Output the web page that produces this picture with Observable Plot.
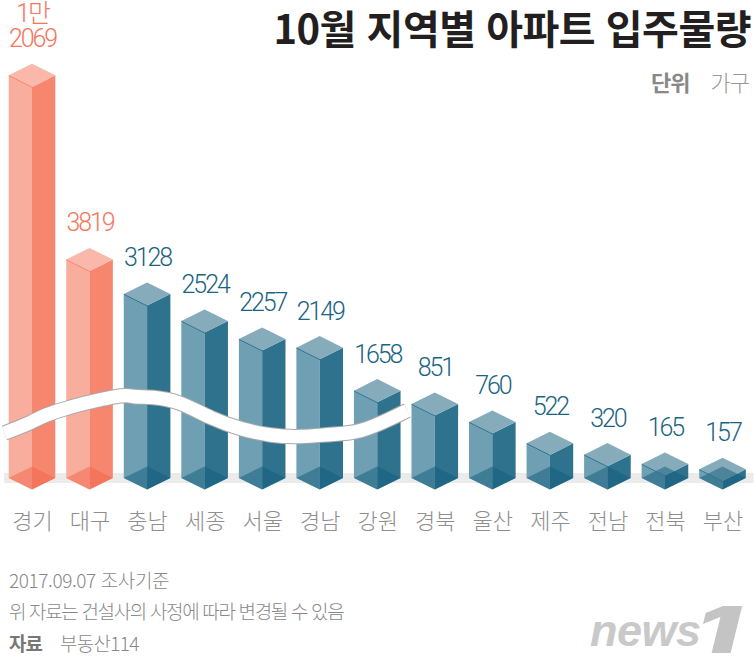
<!DOCTYPE html>
<html lang="ko">
<head>
<meta charset="utf-8">
<script src="https://cdn.jsdelivr.net/npm/d3@7"></script>
<script src="https://cdn.jsdelivr.net/npm/@observablehq/plot@0.6"></script>
<style>
  html, body { margin: 0; padding: 0; background: #fff; }
  #chart { position: relative; width: 756px; height: 657px; overflow: hidden;
           font-family: "Noto Sans CJK KR", sans-serif; }
  #chart svg { display: block; background: transparent; }
  .vals text { letter-spacing: -2.1px; font-weight: 300; }
  .abs { position: absolute; white-space: nowrap; line-height: 1.3; }
  #title { right: 5px; top: 1px; font-size: 40px; font-weight: 700; color: #231f20; letter-spacing: -0.5px; }
  #unit { right: 7px; top: 67px; font-size: 22px; color: #999; font-weight: 300; letter-spacing: -1px; }
  #unit b { font-weight: 700; color: #888; margin-right: 21px; }
  .note { left: 9px; font-size: 19px; color: #888; font-weight: 300; letter-spacing: -1.6px; }
  .note b { font-weight: 700; color: #777; margin-right: 18px; letter-spacing: -1px; }
  #logo { left: 590px; top: 606px; font: italic 700 45px/1.1 "Liberation Sans", sans-serif; color: #c9c9c9; letter-spacing: -0.5px; }
  #logo1 { left: 696px; top: 603px; font: italic 900 64px/0.85 "Inter", "Liberation Sans", sans-serif; color: #c4c4c4;
           transform: scaleX(1.5); transform-origin: left center; }
</style>
</head>
<body>
<div id="chart">
  <div class="abs" id="title">10월 지역별 아파트 입주물량</div>
  <div class="abs" id="unit"><b>단위</b>가구</div>
  <div class="abs note" style="top:568px;letter-spacing:-0.4px">2017.09.07 조사기준</div>
  <div class="abs note" style="top:599px;letter-spacing:-1.35px">위 자료는 건설사의 사정에 따라 변경될 수 있음</div>
  <div class="abs note" style="top:631px;letter-spacing:-0.7px"><b>자료</b>부동산114</div>
  <div class="abs" id="logo">news</div>
  <div class="abs" id="logo1">1</div>
</div>
<script>
const regions = ["경기","대구","충남","세종","서울","경남","강원","경북","울산","제주","전남","전북","부산"];
const households = [12069,3819,3128,2524,2257,2149,1658,851,760,522,320,165,157];
const drawnHeights = [402.7,218.5,184,157,139,130.3,87.3,74,56,34.7,23.3,14,8.7];
const waveX = [-0.487,-0.035,0.435,1.409,1.757,2.104,2.574,3.096,3.617,4.139,4.661,5.183,5.704,6.226,6.513];
const waveY = [45.5,56,67.5,81.5,82,81,75,61,50,43.5,42,44,48,60,68];

const halfWidth = 0.405, slant = 11.6;
const highlighted = 2;
const palette = {
  warm: {left:"#f9ad9d", right:"#f7866f", top:"#fab8aa", edge:"#f8836c", floor:"#f2634a", text:"#f4765c"},
  cool: {left:"#6f9fb2", right:"#2f728e", top:"#86acbc", edge:"#2f728e", floor:"#0f5b7a", text:"#1a6482"}
};
const bars = regions.map((r,i)=>({i, region:r, value:households[i], h:drawnHeights[i],
  c: i<highlighted ? palette.warm : palette.cool}));

const polys = (fn) => bars.flatMap(b => fn(b).map(p => ({key:b.i, x:b.i+p[0], y1:p[1], y2:p[2], b})));
const leftFace  = polys(b=>[[-halfWidth,0,b.h],[0,-slant,b.h-slant]]);
const rightFace = polys(b=>[[0,-slant,b.h-slant],[halfWidth,0,b.h]]);
const topFace   = polys(b=>[[-halfWidth,b.h,b.h],[0,b.h-slant,b.h+slant],[halfWidth,b.h,b.h]]);
const floorFace = polys(b=>[[-halfWidth,0,0],[0,-slant,slant],[halfWidth,0,0]]);
const topEdge   = polys(b=>[[-halfWidth,b.h,b.h],[0,b.h-slant,0]]);

const label = v => v>=10000 ? `${Math.floor(v/10000)}만\n${v%10000}` : `${v}`;
const wave = waveX.map((x,k)=>({x, y:waveY[k]}));
const area = (rows, color, extra={}) => Plot.area(rows,{x1:"x",y1:"y1",y2:"y2",z:"key",fill:d=>d.b.c[color],...extra});
const band = [{x1:-0.487,x2:12.54,y1:-5,y2:5}];

const chart = Plot.plot({
  width:756, height:657, marginTop:0, marginBottom:179, marginLeft:32, marginRight:33.5,
  style:{fontFamily:'"Noto Sans CJK KR", sans-serif', background:"transparent", overflow:"visible"},
  x:{domain:[0,12], label:null},
  y:{domain:[0,478], label:null, axis:null},
  marks:[
    Plot.rect(band,{x1:"x1",x2:"x2",y1:"y1",y2:"y2",fill:"#ebebeb"}),
    area(leftFace,"left"),
    area(rightFace,"right"),
    area(topFace,"top"),
    area(floorFace,"floor",{fillOpacity:0.5}),
    Plot.line(topEdge,{x:"x",y:"y1",z:"key",stroke:d=>d.b.c.edge,strokeWidth:1}),
    Plot.line(wave,{x:"x",y:"y",curve:"natural",stroke:"#a9a9a9",strokeWidth:15.4,strokeLinecap:"butt"}),
    Plot.line(wave,{x:"x",y:"y",curve:"natural",stroke:"#ffffff",strokeWidth:13.4,strokeLinecap:"butt"}),
    Plot.text(bars,{x:"i",y:d=>d.h+slant,text:d=>label(d.value),dy:-17,lineAnchor:"bottom",lineHeight:1.02,
      fontSize:25,fill:d=>d.c.text,className:"vals",
      fontFamily:'"Roboto","Noto Sans CJK KR",sans-serif'}),
    Plot.axisX(d3.range(regions.length),{anchor:"bottom",label:null,tickSize:0,tickPadding:35,
      tickFormat:i=>regions[i],fontSize:22,fill:"#8e8e8e",fontWeight:300})
  ]
});
document.getElementById("chart").prepend(chart);
</script>
</body>
</html>
